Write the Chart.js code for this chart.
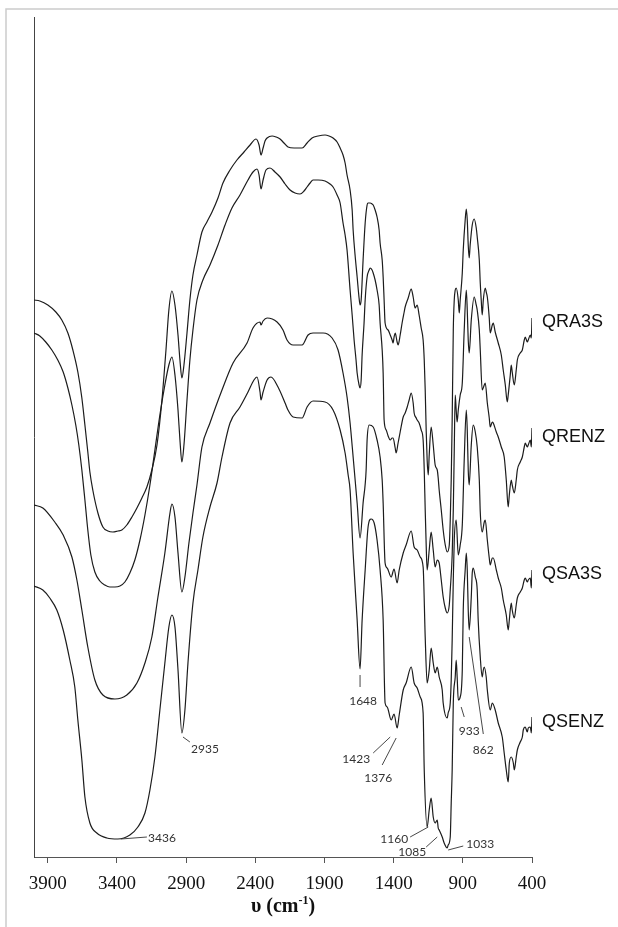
<!DOCTYPE html>
<html>
<head>
<meta charset="utf-8">
<title>FTIR spectra</title>
<script src="https://cdn.jsdelivr.net/npm/chart.js@4.4.1/dist/chart.umd.min.js"></script>
<style>
  html, body { margin: 0; padding: 0; background: #fff; }
  #wrap { width: 618px; height: 927px; }
</style>
</head>
<body>
<div id="wrap"><canvas id="ftir" width="618" height="927"></canvas></div>
<script>
// wavenumber axis (cm-1) and tick labels
const xTicks = [3900, 3400, 2900, 2400, 1900, 1400, 900, 400];

// QRA3S (top trace)
const wnRA3S = [4000,3958,3900,3842,3799,3755,3719,3683,3654,3632,3611,3596,3575,3538,3502,3466,3430,3394,3365,3329,3292,3256,3220,3184,3148,3111,3075,3046,3025,3003,2981,2959,2945,2931,2916,2894,2873,2851,2822,2786,2750,2713,2670,2634,2583,2533,2482,2438,2395,2373,2359,2344,2330,2315,2279,2250,2221,2193,2164,2120,2062,2026,1990,1946,1896,1867,1838,1809,1787,1766,1751,1737,1715,1700,1693,1679,1664,1650,1643,1635,1621,1606,1592,1585,1570,1556,1548,1534,1520,1505,1498,1483,1476,1469,1462,1440,1425,1411,1404,1397,1389,1375,1368,1353,1339,1324,1317,1295,1273,1259,1245,1230,1216,1201,1187,1179,1172,1165,1158,1150,1143,1129,1114,1100,1085,1078,1071,1056,1042,1027,1013,998,991,984,977,969,962,955,948,933,926,919,904,897,883,875,868,861,854,847,832,818,803,796,781,774,767,760,752,738,731,723,709,702,687,680,666,644,622,608,593,579,572,557,550,543,528,514,506,485,470,456,449,434,427,412,405,400];
const tRA3S = [55.7,55.6,55.2,54.5,53.7,52.4,50.7,48.5,45.9,43.2,40.5,38.5,36.7,34.4,33.0,32.6,32.5,32.6,32.7,33.2,34.0,34.9,35.9,37.0,38.7,41.2,45.7,50.7,54.7,56.6,55.2,52.2,49.7,47.9,49.2,52.4,55.7,58.2,60.2,62.5,63.5,64.5,65.9,67.4,68.7,69.7,70.5,71.2,71.8,71.2,70.2,70.9,71.6,71.9,72.1,72.0,71.8,71.4,71.0,70.9,70.9,71.4,71.9,72.1,72.2,72.1,71.9,71.5,70.9,70.2,69.4,68.2,66.7,64.7,62.7,60.2,58.0,55.9,55.2,55.7,59.7,63.4,65.2,65.4,65.4,65.3,65.2,64.7,64.0,62.7,61.4,59.7,58.0,55.7,53.4,52.7,52.2,51.7,51.4,52.0,52.4,51.5,51.2,52.2,53.4,54.5,55.0,55.9,56.8,56.0,54.9,55.2,54.2,52.9,51.7,49.7,46.7,42.7,39.7,38.2,40.2,43.0,41.2,39.2,38.7,37.9,36.7,34.7,32.7,31.2,30.5,31.2,33.7,37.7,43.7,52.7,55.7,56.7,56.9,55.7,54.4,55.7,58.4,60.7,63.7,64.8,63.7,61.2,59.9,61.2,63.2,63.8,62.9,62.0,59.7,57.4,55.7,54.2,55.7,56.9,56.5,56.0,53.9,52.4,53.2,53.4,52.5,51.4,50.2,48.7,47.2,45.5,46.2,48.2,49.2,48.5,47.2,48.7,49.7,50.4,50.7,51.7,52.0,51.5,51.7,52.2,51.9,53.9];

// QRENZ
const wnRENZ = [4000,3958,3915,3871,3828,3789,3755,3726,3698,3676,3654,3632,3611,3589,3560,3524,3488,3452,3415,3379,3343,3307,3271,3234,3198,3162,3126,3090,3054,3025,3003,2981,2959,2945,2931,2916,2894,2873,2851,2822,2779,2728,2670,2619,2569,2511,2453,2417,2388,2373,2359,2344,2323,2294,2258,2221,2185,2149,2113,2077,2048,2026,2004,1983,1946,1896,1860,1838,1809,1787,1766,1751,1737,1715,1700,1686,1672,1664,1650,1643,1635,1628,1614,1606,1592,1577,1570,1556,1548,1534,1520,1505,1498,1483,1476,1469,1454,1440,1425,1411,1404,1389,1382,1368,1353,1331,1317,1302,1288,1273,1259,1252,1237,1230,1216,1201,1187,1179,1172,1165,1158,1143,1129,1114,1100,1085,1071,1056,1042,1027,1013,998,991,977,969,962,955,948,941,933,919,904,890,875,868,861,854,839,818,803,796,781,774,760,745,738,723,709,702,687,680,658,644,622,601,586,572,564,550,543,528,514,506,485,470,456,449,434,427,412,405,400];
const tRENZ = [52.4,52.1,51.5,50.7,49.7,48.5,46.9,45.2,43.2,41.2,38.7,35.7,32.7,30.2,28.5,27.6,27.2,27.0,27.0,27.1,27.5,28.4,29.7,31.7,34.2,37.2,40.7,44.2,47.2,49.2,50.0,48.2,44.7,41.7,39.5,41.2,45.7,49.7,52.7,55.7,57.7,59.2,61.2,63.2,64.9,66.2,67.7,68.5,68.8,68.2,66.8,67.7,68.7,68.9,68.5,68.0,67.3,66.7,66.4,66.3,66.6,67.0,67.4,67.7,67.7,67.6,67.3,67.0,66.2,65.4,63.4,62.2,60.7,56.7,54.2,51.7,49.7,48.4,47.2,46.9,47.7,50.2,53.4,55.7,58.0,58.7,58.9,58.7,58.4,57.7,56.7,55.2,53.4,50.7,48.4,43.7,42.7,42.1,41.7,41.9,41.9,40.9,40.4,41.4,42.5,44.0,44.4,45.0,45.7,46.4,45.4,44.4,43.9,43.7,43.4,42.7,41.7,38.7,34.7,31.2,28.7,30.7,32.5,30.7,29.0,29.7,29.4,27.7,26.0,24.9,24.4,25.2,26.7,30.2,34.7,40.7,46.2,44.7,43.5,44.7,46.2,47.4,52.7,56.7,54.7,51.7,50.4,53.7,56.0,55.2,54.7,52.7,50.7,46.7,47.2,47.4,45.4,43.9,43.0,43.5,43.4,42.5,42.0,41.0,40.0,37.7,35.0,36.2,37.7,37.2,36.4,37.7,38.7,39.5,40.0,41.0,41.4,41.0,41.2,41.7,41.0,42.9];

// QSA3S
const wnSA3S = [4000,3936,3850,3789,3726,3690,3654,3611,3560,3502,3415,3329,3256,3198,3148,3104,3054,3017,3003,2981,2959,2931,2909,2880,2851,2822,2786,2728,2641,2561,2460,2417,2366,2359,2344,2315,2243,2200,2171,2127,2062,2019,1983,1910,1845,1802,1766,1737,1715,1693,1664,1643,1621,1599,1592,1577,1548,1520,1498,1483,1476,1462,1447,1418,1397,1375,1360,1331,1310,1273,1252,1230,1208,1187,1172,1158,1143,1129,1114,1100,1085,1071,1049,1042,1013,1006,991,984,977,969,962,948,933,919,904,890,875,868,861,854,839,825,810,796,781,774,760,745,738,723,709,702,687,680,658,644,622,608,586,572,564,550,543,528,514,506,485,470,456,449,434,427,412,405,400];
const tSA3S = [35.2,34.9,33.5,32.2,30.0,27.7,24.7,21.0,17.7,16.2,15.8,16.2,17.4,19.4,22.0,26.0,30.4,34.4,35.3,34.0,30.4,26.5,28.0,31.4,34.4,37.2,41.0,43.4,46.7,49.4,51.4,52.9,53.5,53.2,53.6,53.9,53.5,52.7,51.7,51.2,51.2,52.2,52.4,52.4,51.9,50.7,48.4,46.0,43.4,40.0,35.4,31.9,35.4,38.7,41.7,43.2,43.0,41.7,40.0,37.7,35.4,29.4,28.9,28.0,28.8,27.4,28.7,30.4,31.2,32.6,31.0,30.7,30.0,29.0,22.0,17.4,18.7,20.9,19.4,18.4,19.0,18.0,16.7,15.4,13.9,14.4,15.4,17.7,21.7,27.7,31.7,33.7,30.2,31.2,33.2,39.7,44.7,42.7,38.7,37.2,41.2,43.2,42.5,41.0,37.7,34.5,32.5,33.5,33.7,31.7,29.9,29.2,29.9,29.9,28.7,27.9,26.9,25.7,24.2,22.7,23.7,25.4,24.7,23.9,25.2,25.9,26.5,26.9,27.7,27.9,27.5,27.7,27.9,26.9,28.7];

// QSENZ (bottom trace)
const wnSENZ = [4000,3936,3886,3835,3789,3741,3705,3683,3654,3632,3596,3546,3473,3394,3307,3249,3198,3162,3126,3090,3054,3025,3003,2981,2959,2931,2909,2887,2851,2815,2779,2728,2677,2641,2583,2511,2453,2410,2388,2366,2359,2344,2315,2287,2236,2185,2164,2127,2062,2026,1983,1896,1838,1787,1751,1729,1715,1693,1664,1643,1628,1606,1585,1563,1541,1520,1498,1476,1462,1447,1418,1397,1375,1360,1331,1310,1273,1252,1230,1208,1187,1179,1158,1143,1129,1114,1100,1085,1078,1071,1049,1035,1013,1006,991,984,977,969,955,948,941,933,919,904,897,883,875,868,861,854,839,832,825,810,796,789,774,760,752,745,731,723,702,687,666,644,615,601,586,572,564,550,535,528,514,506,485,470,463,449,434,427,412,405,400];
const tSENZ = [27.1,26.7,25.9,24.7,22.7,19.7,17.0,13.7,9.7,6.0,3.4,2.4,1.9,1.8,2.2,3.0,4.4,6.7,10.0,14.7,19.4,23.0,24.2,23.0,18.7,12.4,14.7,19.4,25.4,28.7,32.0,35.0,37.4,40.0,43.4,45.0,46.5,47.7,48.0,46.5,45.7,46.5,47.7,48.0,47.0,45.4,44.7,44.0,43.9,45.0,45.6,45.5,44.7,42.7,40.4,38.2,36.7,30.4,23.7,18.8,23.7,28.7,33.0,33.8,33.4,31.7,28.7,23.7,15.4,15.0,13.7,14.3,12.9,14.2,16.7,17.4,19.0,17.4,16.9,16.0,14.4,8.7,3.0,4.7,5.9,4.0,3.4,3.7,2.9,2.7,2.0,1.4,0.9,1.2,2.0,5.4,8.7,15.4,18.0,19.7,18.0,15.7,16.0,18.7,24.7,28.7,30.4,28.7,24.7,22.7,26.0,28.4,28.9,28.0,26.7,23.7,20.0,18.0,18.7,19.0,18.0,16.7,14.7,15.4,14.7,13.4,12.0,10.4,8.7,7.5,9.4,10.0,9.4,8.7,10.0,10.7,11.5,12.0,12.7,13.0,12.5,12.9,13.0,12.4,14.0];

const seriesNames = ['QRA3S', 'QRENZ', 'QSA3S', 'QSENZ'];
const seriesLabelT = [53.5, 42.0, 28.3, 13.5];

// peak labels: text anchor and leader line ends, in (cm-1, T)
const peakText = ['3436', '2935', '1648', '1423', '1376', '933', '862', '1160', '1085', '1033'];
const peakTextAt = [[3075, 1.9], [2764, 10.8], [1621, 15.6], [1671, 9.8], [1512, 7.9], [854, 12.6], [752, 10.7], [1396, 1.8], [1266, 0.5], [774, 1.3]];
const peakLineFrom = [[3184, 2.0], [2873, 11.5], [1643, 17.0], [1548, 10.4], [1483, 9.2], [890, 14.0], [752, 12.3], [1281, 2.0], [1165, 1.0], [897, 1.1]];
const peakLineTo = [[3372, 1.8], [2923, 12.0], [1643, 18.2], [1425, 12.0], [1382, 11.9], [912, 15.0], [854, 22.0], [1150, 3.0], [1085, 2.0], [1006, 0.7]];

const toXY = (wn, t) => wn.map((w, i) => ({ x: w, y: t[i] }));

const lineStyle = {
    showLine: true,
    borderColor: '#1c1c1c',
    borderWidth: 1.2,
    pointRadius: 0,
    cubicInterpolationMode: 'monotone',
    fill: false,
};

const extras = {
    id: 'extras',
    beforeDraw(chart) {
        const ctx = chart.ctx;
        ctx.save();
        ctx.strokeStyle = '#cccccc';
        ctx.lineWidth = 1.5;
        ctx.beginPath();
        ctx.moveTo(6, 927);
        ctx.lineTo(6, 9);
        ctx.lineTo(618, 9);
        ctx.stroke();
        ctx.restore();
    },
    afterDraw(chart) {
        const ctx = chart.ctx;
        const xs = chart.scales.x;
        const ys = chart.scales.y;
        const area = chart.chartArea;
        ctx.save();

        // peak annotations
        ctx.strokeStyle = '#333';
        ctx.lineWidth = 0.9;
        peakText.forEach((txt, i) => {
            ctx.beginPath();
            ctx.moveTo(xs.getPixelForValue(peakLineFrom[i][0]), ys.getPixelForValue(peakLineFrom[i][1]));
            ctx.lineTo(xs.getPixelForValue(peakLineTo[i][0]), ys.getPixelForValue(peakLineTo[i][1]));
            ctx.stroke();
        });
        ctx.fillStyle = '#333';
        ctx.font = '12px Lato';
        ctx.textAlign = 'center';
        ctx.textBaseline = 'middle';
        peakText.forEach((txt, i) => {
            ctx.fillText(txt, xs.getPixelForValue(peakTextAt[i][0]), ys.getPixelForValue(peakTextAt[i][1]));
        });

        // trace names
        ctx.fillStyle = '#111';
        ctx.font = '18px "Liberation Sans"';
        ctx.textAlign = 'left';
        seriesNames.forEach((name, i) => {
            ctx.fillText(name, area.right + 10, ys.getPixelForValue(seriesLabelT[i]));
        });

        // axis title: υ (cm-1)
        ctx.fillStyle = '#111';
        ctx.textBaseline = 'alphabetic';
        const big = 'bold 20px "Liberation Serif"';
        const small = 'bold 12px "Liberation Serif"';
        const parts = [['υ (cm', big, 0], ['-1', small, -8], [')', big, 0]];
        let total = 0;
        parts.forEach(p => { ctx.font = p[1]; total += ctx.measureText(p[0]).width; });
        let x = (area.left + area.right) / 2 - total / 2;
        const base = 912;
        parts.forEach(p => {
            ctx.font = p[1];
            ctx.fillText(p[0], x, base + p[2]);
            x += ctx.measureText(p[0]).width;
        });
        ctx.restore();
    }
};

new Chart(document.getElementById('ftir'), {
    type: 'scatter',
    data: {
        datasets: [
            { label: 'QRA3S', data: toXY(wnRA3S, tRA3S), ...lineStyle },
            { label: 'QRENZ', data: toXY(wnRENZ, tRENZ), ...lineStyle },
            { label: 'QSA3S', data: toXY(wnSA3S, tSA3S), ...lineStyle },
            { label: 'QSENZ', data: toXY(wnSENZ, tSENZ), ...lineStyle },
        ],
    },
    options: {
        responsive: false,
        animation: false,
        devicePixelRatio: 1,
        layout: { padding: { left: 34, right: 86, top: 17, bottom: 0 } },
        plugins: {
            legend: { display: false },
            tooltip: { enabled: false },
        },
        scales: {
            x: {
                type: 'linear',
                reverse: true,
                min: 400,
                max: 4000,
                afterBuildTicks: axis => { axis.ticks = xTicks.map(v => ({ value: v })); },
                afterFit: axis => { axis.height = 70; },
                ticks: {
                    color: '#111',
                    padding: 10,
                    maxRotation: 0,
                    autoSkip: false,
                    font: { family: '"Liberation Serif"', size: 19 },
                    callback: value => String(value),
                },
                grid: { display: true, drawOnChartArea: false, drawTicks: true, tickLength: 6, color: '#555' },
                border: { display: true, color: '#555', width: 1 },
            },
            y: {
                min: 0,
                max: 84,
                afterFit: axis => { axis.width = 0; },
                ticks: { display: false },
                grid: { display: false, drawTicks: false },
                border: { display: true, color: '#444', width: 1 },
            },
        },
    },
    plugins: [extras],
});
</script>
</body>
</html>
